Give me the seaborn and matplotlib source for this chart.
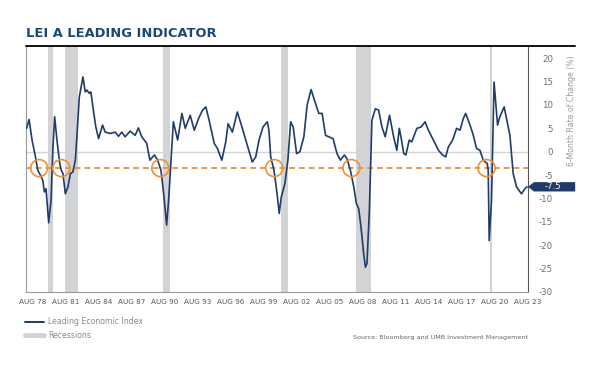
import matplotlib
matplotlib.use("Agg")
import matplotlib.pyplot as plt
import matplotlib.transforms as mtransforms
from matplotlib.patches import Polygon
from matplotlib.lines import Line2D
import seaborn as sns
import pandas as pd

# LEI 6-month rate of change (%) (decimal years)
years = [
    1978.05, 1978.28, 1978.55, 1978.86, 1979.07, 1979.31, 1979.52, 1979.67, 1979.82,
    1980.06, 1980.27, 1980.45, 1980.60, 1980.81, 1981.06, 1981.21, 1981.36, 1981.57,
    1981.81, 1982.03, 1982.26, 1982.48, 1982.62, 1982.84, 1983.17, 1983.38, 1983.53,
    1983.74, 1983.89, 1984.14, 1984.34, 1984.59, 1984.95, 1985.19, 1985.65, 1986.10,
    1986.40, 1986.70, 1987.00, 1987.46, 1987.91, 1988.21, 1988.51, 1988.96, 1989.25,
    1989.66, 1989.95, 1990.26, 1990.50, 1990.77, 1990.95, 1991.17, 1991.38, 1991.77,
    1992.16, 1992.46, 1992.91, 1993.28, 1993.67, 1994.03, 1994.33, 1994.63, 1995.09,
    1995.38, 1995.78, 1996.14, 1996.35, 1996.74, 1997.19, 1997.65, 1998.04, 1998.55,
    1998.86, 1999.16, 1999.52, 1999.91, 2000.06, 2000.22, 2000.52, 2000.72, 2000.90,
    2000.99, 2001.18, 2001.51, 2001.78, 2002.03, 2002.26, 2002.57, 2002.87, 2003.23,
    2003.53, 2003.89, 2004.29, 2004.59, 2004.89, 2005.20, 2005.49, 2005.88, 2006.24,
    2006.55, 2006.91, 2007.15, 2007.46, 2007.76, 2008.00, 2008.21, 2008.42, 2008.66,
    2008.82, 2008.96, 2009.18, 2009.41, 2009.72, 2010.02, 2010.32, 2010.62, 2011.01,
    2011.38, 2011.67, 2011.90, 2012.10, 2012.30, 2012.49, 2012.80, 2013.03, 2013.49,
    2013.88, 2014.24, 2014.54, 2014.99, 2015.45, 2015.84, 2016.11, 2016.35, 2016.74,
    2017.10, 2017.41, 2017.71, 2017.92, 2018.32, 2018.62, 2018.91, 2019.22, 2019.52,
    2019.73, 2019.88, 2019.97, 2020.06, 2020.27, 2020.50, 2020.82, 2021.03, 2021.42,
    2021.63, 2021.94, 2022.24, 2022.54, 2022.99, 2023.30, 2023.50,
]
lei = [
    5.0, 6.9, 2.5, -1.1, -4.0, -5.0, -6.1, -8.6, -7.9,
    -15.2, -10.4, 1.0, 7.5, 2.5, -2.5, -4.0, -4.7, -9.0,
    -7.5, -4.7, -4.3, -1.8, 3.2, 11.7, 16.0, 12.8, 13.2,
    12.5, 12.8, 8.5, 5.3, 2.8, 5.7, 4.2, 3.9, 4.2,
    3.3, 4.2, 3.2, 4.4, 3.5, 5.1, 3.2, 1.8, -1.8,
    -0.7, -1.8, -4.0, -9.0, -15.7, -10.4, -1.8, 6.4, 2.5,
    8.2, 5.0, 7.8, 4.6, 7.1, 8.9, 9.6, 6.7, 1.8,
    0.7, -1.8, 2.1, 6.0, 4.2, 8.5, 5.0, 1.8, -2.2,
    -1.1, 2.5, 5.3, 6.4, 4.6, -1.1, -4.0, -7.5, -11.1,
    -13.2, -9.7, -6.8, -1.8, 6.4, 5.3, -0.4, 0.0, 3.2,
    10.0, 13.3, 10.3, 8.2, 8.2, 3.5, 3.2, 2.8, -0.4,
    -1.8, -0.7, -1.5, -4.0, -7.5, -11.1, -12.2, -16.1, -21.8,
    -24.7, -23.9, -12.5, 6.7, 9.2, 8.9, 5.3, 3.2, 7.8,
    3.2, 0.3, 5.0, 2.5, -0.4, -0.7, 2.5, 2.1, 5.0,
    5.3, 6.4, 4.6, 2.5, 0.3, -0.7, -1.1, 1.0, 2.5,
    5.0, 4.6, 7.1, 8.2, 5.7, 3.5, 0.7, 0.3, -1.8,
    -2.2, -2.5, -4.0, -19.0, -10.4, 14.9, 5.7, 7.5, 9.6,
    7.1, 3.5, -4.7, -7.5, -9.0, -7.9, -7.5,
]

# recessions (start, end)
recession_start = [1980.0, 1981.55, 1990.45, 2001.15, 2007.95, 2020.10]
recession_end = [1980.45, 1982.75, 1991.10, 2001.80, 2009.35, 2020.33]

# signal level and flagged crossings
threshold = -3.5
signal_years = [1979.19, 1981.21, 1990.20, 2000.54, 2007.55, 2019.82]

tick_years = list(range(1978, 2024, 3))
tick_labels = [f"AUG {y % 100:02d}" for y in tick_years]
latest_value = -7.5

navy = "#1f3c6a"
orange = "#ec9138"
band_gray = "#d1d3d4"

sns.set_theme(style="white")
plt.rcParams["font.family"] = ["DejaVu Sans"]
plt.rcParams["axes.unicode_minus"] = False

df = pd.DataFrame({"year": years, "lei": lei})

fig = plt.figure(figsize=(6, 3.67), dpi=100)
ax = fig.add_axes([26 / 600, 1 - 292 / 367, 502 / 600, 245 / 367])

for s, e in zip(recession_start, recession_end):
    ax.axvspan(s, e, color=band_gray, lw=0, zorder=0)

ax.axhline(0, color="#d3d5d6", lw=1.0, zorder=1)
ax.axhline(threshold, color=orange, lw=1.3, dashes=(3.2, 2.2), zorder=2)

sns.lineplot(data=df, x="year", y="lei", ax=ax, color=navy, lw=1.2, zorder=3)

ax.scatter(signal_years, [threshold] * len(signal_years), s=150,
           facecolors="none", edgecolors=orange, linewidths=1.2, zorder=4)

ax.set_xlim(1978.0, 2023.5)
ax.set_ylim(-30, 22.4)

ax.set_xticks([y + 7 / 12 for y in tick_years])
ax.set_xticklabels(tick_labels)
ax.yaxis.tick_right()
ax.set_yticks(range(-30, 25, 5))
ax.tick_params(axis="x", length=0, pad=5, labelsize=5.2, labelcolor="#555555")
ax.tick_params(axis="y", length=0, pad=18, labelsize=6.2, labelcolor="#6d6e70")
for lbl in ax.get_yticklabels():
    lbl.set_horizontalalignment("right")
ax.set_xlabel("")
ax.set_ylabel("")

for side in ["left", "bottom"]:
    ax.spines[side].set_color("#9a9a9a")
    ax.spines[side].set_linewidth(0.8)
ax.spines["right"].set_color("#555555")
ax.spines["right"].set_linewidth(0.8)
ax.spines["top"].set_visible(False)

# latest value tag
trans = mtransforms.blended_transform_factory(ax.transAxes, ax.transData)
tag = Polygon([(1.0, latest_value), (1.012, latest_value + 1.0), (1.094, latest_value + 1.0),
               (1.094, latest_value - 1.0), (1.012, latest_value - 1.0)],
              closed=True, transform=trans, facecolor=navy, edgecolor="none",
              clip_on=False, zorder=5)
ax.add_patch(tag)
ax.text(1.05, latest_value, f"{latest_value:.1f}", transform=trans, ha="center",
        va="center", color="white", fontsize=6.2, zorder=6)

# title and rule
fig.text(26 / 600, 1 - 37 / 367, "LEI A LEADING INDICATOR", fontsize=9.4,
         fontweight="bold", color="#1d4873", ha="left", va="baseline")
fig.add_artist(Line2D([26 / 600, 575 / 600], [1 - 46 / 367] * 2, color="#111111", lw=1.4))

fig.text(572 / 600, 1 - 55 / 367, "6-Month Rate of Change (%)", rotation=90,
         fontsize=5.6, color="#9a9a9a", ha="center", va="top")

# legend
fig.add_artist(Line2D([25 / 600, 44 / 600], [1 - 322 / 367] * 2, color=navy, lw=1.4))
fig.text(48 / 600, 1 - 322 / 367, "Leading Economic Index", fontsize=5.6,
         color="#8a8a8a", va="center")
fig.add_artist(Line2D([25 / 600, 44 / 600], [1 - 335 / 367] * 2, color=band_gray, lw=3.5))
fig.text(48 / 600, 1 - 335 / 367, "Recessions", fontsize=5.6, color="#8a8a8a", va="center")

fig.text(528 / 600, 1 - 338 / 367, "Source: Bloomberg and UMB Investment Management",
         fontsize=4.6, color="#666666", ha="right", va="center")

fig.savefig("out.png", dpi=100)
plt.close(fig)
